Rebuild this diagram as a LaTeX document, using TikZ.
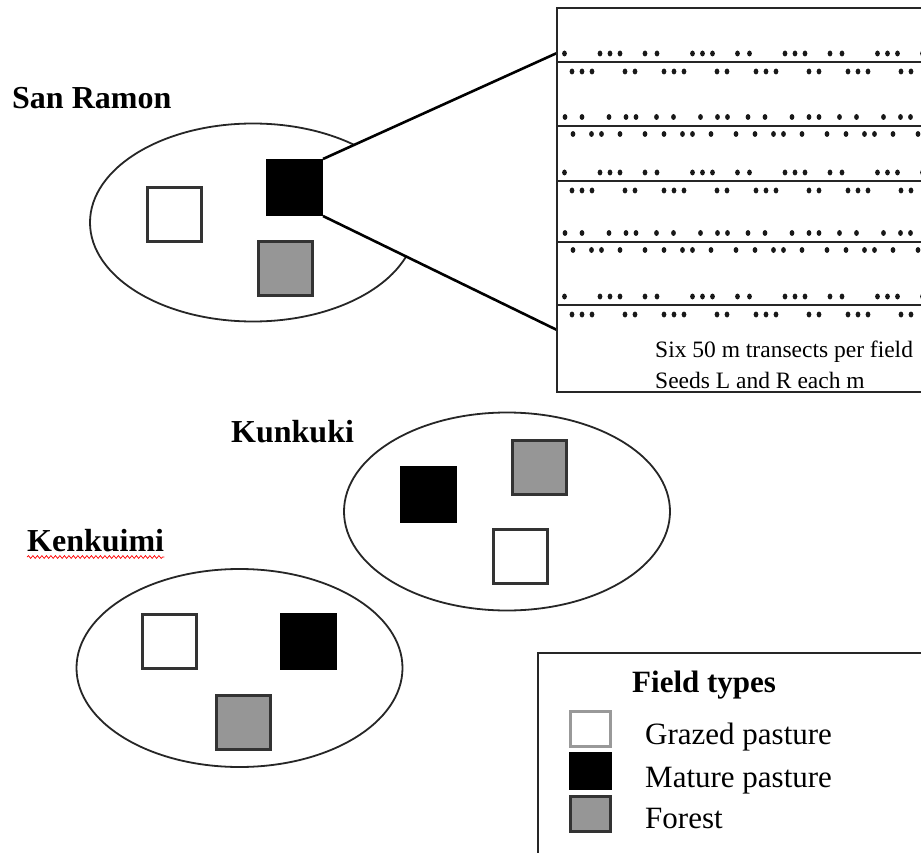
\documentclass[tikz,border=0pt]{standalone}
\usepackage{fontspec}
\setmainfont{Liberation Serif}
\usetikzlibrary{shapes.geometric,decorations.pathmorphing}
\definecolor{fieldgray}{HTML}{969696}
\definecolor{edgegray}{HTML}{333333}
\begin{document}
\begin{tikzpicture}[x=1pt,y=-1pt,
  site/.style={draw=black!85, line width=1.8pt, ellipse, minimum width=326pt, minimum height=198pt, inner sep=0pt},
  fieldsq/.style={rectangle, minimum size=54pt, inner sep=0pt, line width=3pt},
  grazed/.style={fieldsq, draw=edgegray, fill=white},
  mature/.style={fieldsq, draw=black, fill=black},
  forest/.style={fieldsq, draw=edgegray, fill=fieldgray},
  legsq/.style={rectangle, minimum width=40pt, minimum height=35pt, inner sep=0pt, line width=3pt},
  sitelabel/.style={anchor=base west, inner sep=0pt, font=\fontsize{32}{38}\selectfont\bfseries},
  smalltext/.style={anchor=base west, inner sep=0pt, font=\fontsize{23.5}{28}\selectfont},
  legtext/.style={anchor=base west, inner sep=0pt, font=\fontsize{31}{36}\selectfont},
  callout/.style={line width=2.6pt, black},
  frame/.style={line width=1.6pt, black!85},
  seed/.style={fill=black!90}
]
\useasboundingbox (0,0) rectangle (921,853);
\fill[white] (0,0) rectangle (921,853);

% ---------- San Ramon ----------
\node[sitelabel] (srlab) at (12,109) {San Ramon};
\node[site] (sr) at (253,222.5) {};
\node[mature] (sr-m) at (294.5,187.5) {};

% transect box
\coordinate (tb-nw) at (557,8);
\coordinate (tb-se) at (960,392);
\coordinate (zoomtop) at (557,53);
\coordinate (zoombot) at (557,330);
\fill[white] (sr-m.north east) -- (zoomtop) -- (zoombot) -- (sr-m.south east) -- cycle;
\node[grazed] (sr-g) at (174.5,214.5) {};
\node[forest] (sr-f) at (285.5,268.5) {};
\node[mature] at (sr-m) {};
\draw[callout] (sr-m.north east) -- (zoomtop);
\draw[callout] (sr-m.south east) -- (zoombot);

\draw[frame] (tb-nw) rectangle (tb-se);
\foreach \ly in {62,126,181,242,305} {
  \draw[line width=1.8pt, black!85] (557,\ly) -- (960,\ly);
}
\begin{scope}
\clip (tb-nw) rectangle (tb-se);
\foreach \ly in {62,181,305} {
  \foreach \k in {-1,...,4} {
    \foreach \o in {0,10,20,45,57}
      \fill[seed] ({600+92.5*\k+\o},{\ly-8.5}) ellipse [x radius=2.4, y radius=3];
    \foreach \o in {0,10,20,53,63}
      \fill[seed] ({572+92*\k+\o},{\ly+9.5}) ellipse [x radius=2.4, y radius=3];
  }
}
\foreach \ly in {126,242} {
  \foreach \k in {-1,...,4} {
    \foreach \o in {0,17,44,61,71}
      \fill[seed] ({565+91.5*\k+\o},{\ly-9}) ellipse [x radius=2.4, y radius=3];
    \foreach \o in {0,18.5,28.5,47,72}
      \fill[seed] ({573+91*\k+\o},{\ly+8}) ellipse [x radius=2.4, y radius=3];
  }
}
\end{scope}
\node[smalltext] (t1) at (655,357) {Six 50 m transects per field};
\node[smalltext] (t2) at (655,388) {Seeds L and R each m};

% ---------- Kunkuki ----------
\node[sitelabel] (kklab) at (231,442) {Kunkuki};
\node[site] (kk) at (507,511.5) {};
\node[mature] (kk-m) at (428,494) {};
\node[forest] (kk-f) at (539.5,467) {};
\node[grazed] (kk-g) at (520.5,556.5) {};

% ---------- Kenkuimi ----------
\node[sitelabel] (kelab) at (27,551) {Kenkuimi};
\draw[red, line width=0.7pt, decorate, decoration={snake, amplitude=1.4pt, segment length=4.5pt}]
  ([yshift=-6pt]kelab.base west) -- ([yshift=-6pt]kelab.base east);
\node[site] (ke) at (239.5,668) {};
\node[grazed] (ke-g) at (169.5,641.5) {};
\node[mature] (ke-m) at (308,641.5) {};
\node[forest] (ke-f) at (243.5,722) {};

% ---------- Legend ----------
\draw[frame] (538,653) rectangle (960,900);
\node[anchor=base west, inner sep=0pt, font=\fontsize{31}{36}\selectfont\bfseries] (legtitle) at (632,692) {Field types};
\node[legsq, draw=black!40, fill=white] (lg-g) at (590.5,728.5) {};
\node[legsq, draw=black, fill=black] (lg-m) at (590.5,771) {};
\node[legsq, draw=edgegray, fill=fieldgray] (lg-f) at (590.5,813.5) {};
\node[legtext] (lt-g) at (645,744) {Grazed pasture};
\node[legtext] (lt-m) at (645,787) {Mature pasture};
\node[legtext] (lt-f) at (645,828) {Forest};
\end{tikzpicture}
\end{document}
